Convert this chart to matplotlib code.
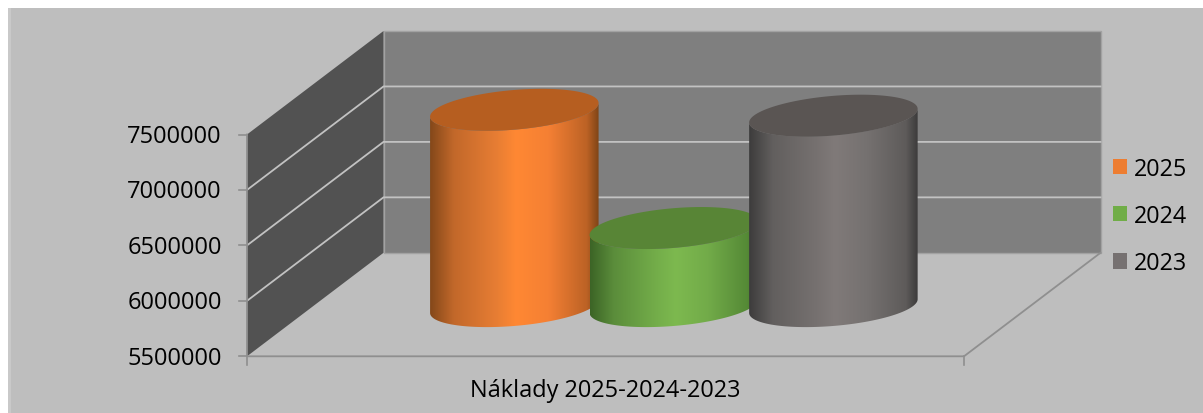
import numpy as np
import matplotlib
matplotlib.use("Agg")
import matplotlib.pyplot as plt
from matplotlib.colors import LinearSegmentedColormap
from matplotlib.patches import Polygon, Rectangle, Patch

plt.rcParams['font.family'] = ['Open Sans', 'DejaVu Sans']

category = "Náklady 2025-2024-2023"
series_names = ["2025", "2024", "2023"]
series_values = [7270000, 6204000, 7217000]
y_ticks = [5500000, 6000000, 6500000, 7000000, 7500000]
legend_colors = ["#ED7D31", "#70AD47", "#767171"]
top_colors = ["#B65E20", "#588536", "#5A5553"]
body_stops = [
    ["#84481A", "#C2682A", "#E87E34", "#FF8833", "#F58034", "#BC6225", "#7F4416"],
    ["#3C6426", "#5B8D3B", "#74AE4A", "#7DB94F", "#72AB49", "#558A36", "#44702B"],
    ["#3D3C3C", "#625F5E", "#767170", "#807A79", "#757170", "#5E5B5A", "#3C3B3B"],
]
stop_pos = [0, 0.14, 0.40, 0.51, 0.70, 0.93, 1]

W, H = 1203, 414
fig = plt.figure(figsize=(W / 100, H / 100), dpi=100, facecolor="white")
ax = fig.add_axes([0, 0, 1, 1])
ax.set_xlim(0, W)
ax.set_ylim(H, 0)
ax.axis("off")

FL, FR = 247, 964            # front plane, x
Y_LO, Y_HI = 357.3, 135.5    # front plane, y of axis min / max
DX, DY = 136.5, 103.5        # depth offset
BAR_DEPTH = 0.485
vmin, vmax = y_ticks[0], y_ticks[-1]


def proj(frac, value, depth):
    x = FL + frac * (FR - FL) + depth * DX
    y = Y_LO + (value - vmin) / (vmax - vmin) * (Y_HI - Y_LO) - depth * DY
    return x, y


# chart background
ax.add_patch(Rectangle((8, 9), W - 8, H - 9, fc="#BEBEBE", ec="none", zorder=0))
ax.add_patch(Rectangle((8, 9), 3, H - 9, fc="#C9C9C9", ec="none", zorder=0.1))

# walls
back = [proj(0, vmin, 1), proj(1, vmin, 1), proj(1, vmax, 1), proj(0, vmax, 1)]
side = [proj(0, vmin, 0), proj(0, vmin, 1), proj(0, vmax, 1), proj(0, vmax, 0)]
ax.add_patch(Polygon(back, fc="#7F7F7F", ec="#A2A2A2", lw=1.0, zorder=1))
ax.add_patch(Polygon(side, fc="#525252", ec="none", zorder=1))

# gridlines
for v in y_ticks[1:-1]:
    pts = np.array([proj(0, v, 0), proj(0, v, 1), proj(1, v, 1)])
    ax.plot(pts[:, 0], pts[:, 1], color="#C2C2C2", lw=1.3, zorder=1.5,
            solid_joinstyle="miter")

# axes lines
axis_c = "#8F8F8F"
pts = np.array([proj(0, vmax, 0), proj(0, vmin, 0), proj(1, vmin, 0), proj(1, vmin, 1)])
ax.plot(pts[:, 0], pts[:, 1], color=axis_c, lw=1.3, zorder=2)
for v in y_ticks:
    x, y = proj(0, v, 0)
    ax.plot([x - 8, x], [y, y], color=axis_c, lw=1.2, zorder=2)
    ax.text(222, y + 1.5, str(v), ha="right", va="center", fontsize=17.0,
            color="black", zorder=5)
for f in (0, 1):
    x, y = proj(f, vmin, 0)
    ax.plot([x, x], [y, y + 9], color=axis_c, lw=1.2, zorder=2)
x, _ = proj(0.5, vmin, 0)
ax.text(x - 0.5, 391.5, category, ha="center", va="center", fontsize=16.9,
        color="black", zorder=5)

# cylinders
SPACING, WIDTH = 0.2225, 0.235
RA = WIDTH * (FR - FL) / 2
SLOPE, RB = -6.85, 19.85


def ell(cx, cy, t):
    return cx + np.cos(t) * RA, cy + np.cos(t) * SLOPE + np.sin(t) * RB


for i, val in enumerate(series_values):
    z = 3 + i
    frac = 0.503 + (i - 1) * SPACING
    cx, cy_bot = proj(frac, vmin, BAR_DEPTH)
    _, cy_top = proj(frac, val, BAR_DEPTH)
    t_front = np.linspace(np.pi, 0, 120)
    bx, by = ell(cx, cy_bot, t_front)
    tt = np.linspace(0, np.pi, 120)
    ux, uy = ell(cx, cy_top, tt)
    body = Polygon(np.column_stack([np.r_[bx, ux], np.r_[by, uy]]), closed=True,
                   transform=ax.transData, fc="none", ec="none")
    ax.add_patch(body)
    cmap = LinearSegmentedColormap.from_list("c", list(zip(stop_pos, body_stops[i])))
    im = ax.imshow(np.linspace(0, 1, 256)[None, :], cmap=cmap, aspect="auto",
                   extent=(cx - RA, cx + RA, by.max() + 2, cy_top - 30),
                   zorder=z, interpolation="bilinear")
    im.set_clip_path(body)
    t_all = np.linspace(0, 2 * np.pi, 240)
    ex, ey = ell(cx, cy_top, t_all)
    ax.add_patch(Polygon(np.column_stack([ex, ey]), closed=True, fc=top_colors[i],
                         ec="none", zorder=z + 0.1))

ax.set_xlim(0, W)
ax.set_ylim(H, 0)

# legend
handles = [Patch(fc=c, ec="none", label=n) for c, n in zip(legend_colors, series_names)]
ax.legend(handles=handles, loc="center left", bbox_to_anchor=(1108 / W, 1 - 217 / H),
          bbox_transform=ax.transAxes, frameon=False, fontsize=16.8, handlelength=0.63,
          handleheight=0.63, handletextpad=0.3, labelspacing=1.0, borderpad=0.2,
          borderaxespad=0)

fig.savefig("out.png", dpi=100, facecolor="white")
